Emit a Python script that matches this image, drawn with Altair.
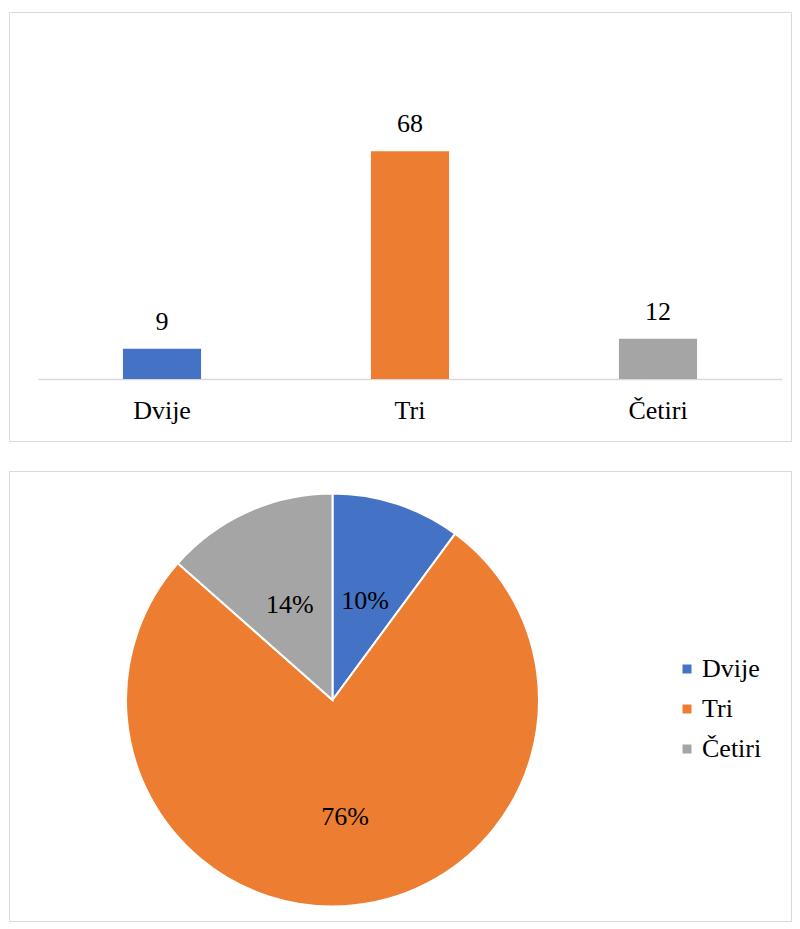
import altair as alt
import pandas as pd

categories = ["Dvije", "Tri", "Četiri"]
counts = [9, 68, 12]
pie_labels = ["10%", "76%", "14%"]
colors = ["#4472C4", "#ED7D31", "#A5A5A5"]
order_idx = [0, 1, 2]

df = pd.DataFrame({"cat": categories, "n": counts, "pct": pie_labels, "idx": order_idx})

FONT = "Liberation Serif"
color_scale = alt.Scale(domain=categories, range=colors)

x = alt.X(
    "cat:N", sort=categories, title=None,
    scale=alt.Scale(range=[29, 773], paddingInner=0.685, paddingOuter=0.3425),
    axis=alt.Axis(offset=-62, ticks=False, domainColor="#d9d9d9", domainWidth=1.5,
                  labelFont=FONT, labelFontSize=26, labelColor="#000000",
                  labelBaseline="alphabetic", labelPadding=39, labelAngle=0, grid=False),
)
y = alt.Y("n:Q", axis=None, scale=alt.Scale(domain=[0, 80], range=[367, 99], nice=False))

bars = alt.Chart(df).mark_bar().encode(
    x=x, y=y, color=alt.Color("cat:N", scale=color_scale, legend=None)
)
vals = alt.Chart(df).mark_text(
    font=FONT, fontSize=26, baseline="alphabetic", dy=-19, color="#000000"
).encode(x=x, y=y, text="n:Q")
top = (bars + vals).properties(width=782, height=429)

base = alt.Chart(df).transform_window(
    cum="sum(n)", sort=[alt.SortField("idx", order="ascending")]
).transform_joinaggregate(
    total="sum(n)"
).transform_calculate(
    a0="2 * PI * (datum.cum - datum.n) / datum.total",
    a1="2 * PI * datum.cum / datum.total",
    am="PI * (2 * datum.cum - datum.n) / datum.total",
    lr="datum.cat == 'Tri' ? 118 : 104",
)
arcs = base.mark_arc(radius=206.5, stroke="white", strokeWidth=2).encode(
    theta=alt.Theta("a0:Q", scale=None),
    theta2="a1:Q",
    color=alt.Color(
        "cat:N", scale=color_scale,
        legend=alt.Legend(orient="none", legendX=665, legendY=185, title=None,
                          symbolType="square", symbolSize=81, symbolStrokeWidth=0,
                          labelFont=FONT, labelFontSize=26, labelColor="#000000",
                          rowPadding=14, labelOffset=2),
    ),
    x=alt.value(323.5), y=alt.value(229),
)
labels = base.mark_text(font=FONT, fontSize=26, color="#000000").encode(
    text="pct:N",
    theta=alt.Theta("am:Q", scale=None),
    radius=alt.Radius("lr:Q", scale=None),
    x=alt.value(323.5), y=alt.value(229),
)
bottom = (arcs + labels).properties(width=782, height=450)

chart = (
    alt.vconcat(top, bottom, spacing=28)
    .resolve_scale(color="independent")
    .resolve_legend(color="independent")
    .properties(padding={"top": 3, "left": 0, "right": 0, "bottom": 0}, background="white")
    .configure_view(stroke="#d9d9d9", strokeWidth=1)
)

chart.save("out.html", embed_options={"renderer": "svg", "actions": False})
